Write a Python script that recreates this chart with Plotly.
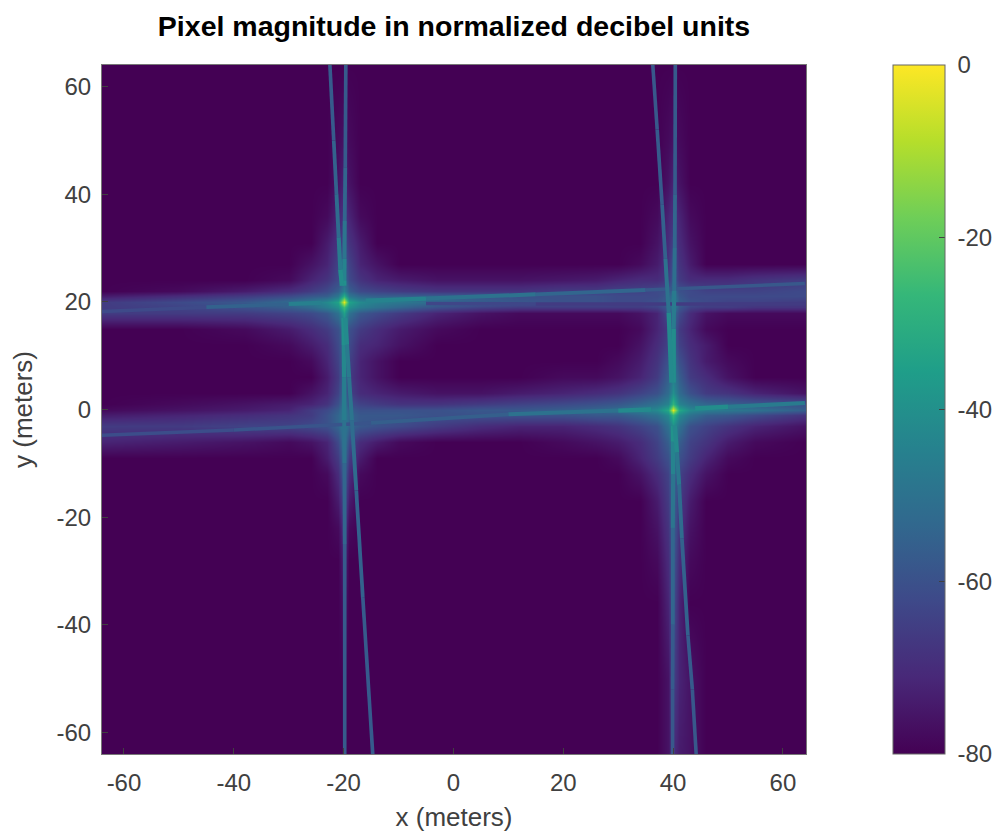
import plotly.graph_objects as go
from plotly.colors import sample_colorscale

TITLE = "Pixel magnitude in normalized decibel units"
X_NODES = [-64,-50,-38,-30,-26,-23,-21,-20,-19,-17,-14,-10,-3,5,12,20,26,30,34,37,39,40,41,43,46,50,55,64]
Y_NODES = [64,50,42,36,31,27,24,22,21,20,19,18,15,12,9,6,3,1,0,-1,-3,-6,-9,-12,-17,-22,-28,-36,-50,-64]
TICKS = [-60,-40,-20,0,20,40,60]
TICK_TEXT = ["-60","-40","-20","0","20","40","60"]
CB_TICKS = [0,-20,-40,-60,-80]
CB_TEXT = ["\u00a00","\u00a0-20","\u00a0-40","\u00a0-60","\u00a0-80"]

Z_ROWS = [
[-80,-80,-80,-80,-80,-80,-80,-80,-80,-80,-80,-80,-80,-80,-80,-80,-80,-80,-80,-80,-80,-80,-80,-80,-80,-80,-80,-80],
[-80,-80,-80,-80,-80,-80,-78,-76,-78,-80,-80,-80,-80,-80,-80,-80,-80,-80,-80,-80,-78,-76,-78,-80,-80,-80,-80,-80],
[-80,-80,-80,-80,-80,-80,-76,-72,-76,-80,-80,-80,-80,-80,-80,-80,-80,-80,-80,-80,-76,-72,-76,-80,-80,-80,-80,-80],
[-80,-80,-80,-80,-80,-78,-72,-68,-72,-78,-80,-80,-80,-80,-80,-80,-80,-80,-80,-78,-72,-68,-72,-78,-80,-80,-80,-80],
[-80,-80,-80,-80,-80,-74,-68,-62,-68,-74,-80,-80,-80,-80,-80,-80,-80,-80,-80,-76,-70,-64,-70,-76,-80,-80,-80,-80],
[-80,-80,-80,-80,-76,-72,-64,-58,-64,-72,-76,-80,-80,-80,-80,-80,-80,-80,-78,-74,-68,-60,-68,-74,-80,-80,-80,-80],
[-80,-80,-80,-78,-72,-68,-62,-52,-62,-68,-72,-74,-76,-76,-76,-75,-74,-72,-70,-70,-66,-58,-66,-70,-70,-70,-68,-66],
[-80,-78,-74,-70,-66,-62,-56,-45,-56,-62,-64,-66,-68,-68,-68,-66,-66,-64,-64,-62,-60,-52,-60,-62,-64,-64,-64,-62],
[-74,-70,-66,-62,-58,-56,-48,-30,-48,-54,-56,-56,-56,-58,-60,-60,-60,-62,-62,-62,-58,-48,-58,-62,-62,-62,-62,-62],
[-66,-62,-58,-52,-48,-42,-34,-3,-34,-42,-46,-48,-52,-56,-58,-60,-60,-62,-62,-60,-56,-45,-56,-60,-62,-64,-64,-66],
[-66,-64,-60,-56,-52,-46,-40,-25,-40,-46,-50,-54,-60,-64,-66,-66,-66,-66,-66,-64,-58,-46,-58,-64,-66,-66,-68,-68],
[-66,-66,-66,-64,-62,-58,-50,-35,-50,-58,-62,-66,-72,-76,-78,-78,-78,-78,-76,-72,-62,-52,-62,-70,-76,-78,-78,-78],
[-80,-80,-78,-74,-70,-66,-60,-50,-60,-66,-70,-74,-78,-80,-80,-80,-80,-80,-78,-72,-66,-56,-66,-72,-78,-80,-80,-80],
[-80,-80,-80,-78,-74,-70,-62,-52,-62,-70,-72,-76,-80,-80,-80,-80,-80,-80,-76,-70,-64,-54,-64,-70,-74,-80,-80,-80],
[-80,-80,-80,-80,-78,-72,-64,-52,-64,-72,-76,-80,-80,-80,-80,-80,-80,-78,-74,-68,-60,-50,-60,-68,-74,-78,-80,-80],
[-80,-80,-80,-80,-80,-74,-66,-52,-66,-72,-76,-80,-80,-80,-80,-78,-78,-76,-72,-66,-56,-46,-56,-66,-70,-76,-80,-80],
[-80,-80,-80,-80,-76,-72,-64,-50,-64,-70,-72,-74,-76,-76,-74,-72,-70,-68,-64,-60,-52,-40,-52,-60,-66,-68,-72,-76],
[-80,-78,-76,-74,-72,-68,-60,-48,-60,-64,-66,-68,-68,-66,-64,-62,-60,-58,-54,-50,-44,-28,-44,-50,-54,-56,-58,-60],
[-78,-76,-74,-72,-66,-62,-56,-46,-56,-60,-60,-60,-60,-58,-58,-56,-54,-52,-46,-42,-32,-3,-32,-42,-46,-48,-50,-56],
[-74,-72,-70,-68,-66,-60,-54,-46,-54,-58,-58,-58,-60,-60,-60,-60,-58,-58,-54,-50,-42,-28,-42,-50,-56,-58,-62,-68],
[-66,-66,-64,-64,-62,-60,-54,-46,-54,-58,-60,-62,-66,-70,-72,-72,-70,-68,-64,-60,-50,-40,-50,-60,-64,-68,-72,-76],
[-72,-74,-76,-78,-76,-72,-62,-48,-62,-70,-74,-78,-80,-80,-80,-78,-76,-74,-70,-64,-56,-46,-56,-64,-68,-74,-78,-80],
[-80,-80,-80,-80,-80,-74,-66,-52,-66,-74,-80,-80,-80,-80,-80,-80,-80,-78,-72,-66,-60,-50,-60,-66,-72,-78,-80,-80],
[-80,-80,-80,-80,-80,-78,-70,-56,-70,-78,-80,-80,-80,-80,-80,-80,-80,-80,-76,-70,-64,-52,-64,-70,-76,-80,-80,-80],
[-80,-80,-80,-80,-80,-80,-74,-62,-74,-80,-80,-80,-80,-80,-80,-80,-80,-80,-80,-74,-66,-54,-66,-74,-80,-80,-80,-80],
[-80,-80,-80,-80,-80,-80,-78,-68,-78,-80,-80,-80,-80,-80,-80,-80,-80,-80,-80,-76,-68,-56,-68,-76,-80,-80,-80,-80],
[-80,-80,-80,-80,-80,-80,-80,-72,-80,-80,-80,-80,-80,-80,-80,-80,-80,-80,-80,-78,-70,-58,-70,-78,-80,-80,-80,-80],
[-80,-80,-80,-80,-80,-80,-80,-76,-80,-80,-80,-80,-80,-80,-80,-80,-80,-80,-80,-80,-72,-60,-72,-80,-80,-80,-80,-80],
[-80,-80,-80,-80,-80,-80,-80,-80,-80,-80,-80,-80,-80,-80,-80,-80,-80,-80,-80,-80,-76,-64,-72,-76,-80,-80,-80,-80],
[-80,-80,-80,-80,-80,-80,-80,-80,-80,-80,-80,-80,-80,-80,-80,-80,-80,-80,-80,-80,-76,-70,-74,-76,-80,-80,-80,-80],
]

# Streaks: x, y, level in dB at each node (None leaves a gap around a peak)
V1_X = [-19.6,-19.7,-19.8,-19.85,-19.9,-19.9,-20,-20,-19.95,-19.9,-19.9,-19.85,-19.8,-19.8]
V1_Y = [64,45,35,28,24,23,20,17,12,6,-2,-10,-25,-64]
V1_V = [-58,-56,-52,-46,-42,-38,None,-38,-42,-44,-48,-52,-56,-58]
S1_X = [-22.5,-21.8,-21.3,-20.9,-20.6,-20.3,-20,-19.7,-19.4,-19,-18.5,-17.7,-16.5,-14.7]
S1_Y = [64,50,40,32,26,23,20,17,12,6,-2,-15,-35,-64]
S1_V = [-58,-56,-54,-50,-44,-38,None,-38,-46,-48,-50,-54,-56,-58]
V2_X = [40.4,40.35,40.3,40.2,40.1,40.1,40,40,40,40,39.95,39.95,39.9,39.9]
V2_Y = [64,40,30,22,15,5,0,-3,-6,-12,-22,-40,-52,-64]
V2_V = [-58,-56,-52,-50,-44,-38,None,-36,-42,-46,-52,-56,-58,-58]
S2_X = [36.3,37.1,38,38.6,39.2,39.7,40,40.3,40.7,41.1,41.6,42.7,43.5,44.2]
S2_Y = [64,52,38,28,18,5,0,-3,-8,-14,-24,-42,-52,-64]
S2_V = [-58,-58,-56,-54,-46,-38,None,-38,-46,-50,-54,-56,-58,-58]
H1A_X = [-64,-45,-30,-24,-20,-16,-5,15,35,64]
H1A_Y = [18.2,19,19.6,19.8,20,20.2,20.6,21.4,22.2,23.4]
H1A_V = [-64,-60,-50,-40,None,-40,-48,-52,-56,-60]
H1B_X = [-5,15,35,64]
H1B_Y = [19.7,19.6,19.6,19.6]
H1B_V = [-60,-66,-66,-66]
H2A_X = [-64,-40,-15,10,30,36,40,44,50,64]
H2A_Y = [-4.8,-3.8,-2.5,-0.9,-0.2,0,0,0.2,0.5,1.2]
H2A_V = [-62,-60,-58,-54,-46,-38,None,-38,-44,-50]
STREAKS = [(H1A_X,H1A_Y,H1A_V),(H1B_X,H1B_Y,H1B_V),(H2A_X,H2A_Y,H2A_V),
           (V1_X,V1_Y,V1_V),(S1_X,S1_Y,S1_V),(V2_X,V2_Y,V2_V),(S2_X,S2_Y,S2_V)]

ZMIN, ZMAX = -80, 0
def col(v):
    return sample_colorscale("Viridis", [(v - ZMIN) / (ZMAX - ZMIN)])[0]

INK = "#404040"
FONT = "Liberation Sans"
# page body has an 8 px margin: figure coordinates = page coordinates - 8
W, H = 985, 824
L, R, T, B = 102 - 8, 806 - 8, 65 - 8, 754 - 8

fig = go.Figure()
fig.add_trace(go.Heatmap(
    x=X_NODES, y=Y_NODES, z=Z_ROWS, zmin=ZMIN, zmax=ZMAX, zsmooth="best",
    colorscale="Viridis", hoverinfo="skip",
    colorbar=dict(
        thickness=52, thicknessmode="pixels", len=1, lenmode="fraction",
        x=(893 - 102) / (806 - 102), xanchor="left", xpad=0, y=0.5, yanchor="middle", ypad=0,
        tickmode="array", tickvals=CB_TICKS, ticktext=CB_TEXT, ticks="inside", ticklen=6, tickcolor=INK,
        tickfont=dict(family=FONT, size=24, color=INK),
        outlinecolor="#666666", outlinewidth=1),
))
for xs, ys, vs in STREAKS:
    for i in range(len(xs) - 1):
        a, b = vs[i], vs[i + 1]
        if a is None or b is None:
            continue
        v = (a + b) / 2
        fig.add_trace(go.Scatter(
            x=[xs[i], xs[i + 1]], y=[ys[i], ys[i + 1]], mode="lines",
            line=dict(color=col(v), width=3.5 + max(0, v + 60) * 0.05),
            hoverinfo="skip", showlegend=False))

ax = dict(tickmode="array", tickvals=TICKS, ticktext=TICK_TEXT, ticks="inside", ticklen=6, tickcolor=INK,
          tickfont=dict(family=FONT, size=24, color=INK), showgrid=False, zeroline=False,
          showline=True, linecolor="#777777", linewidth=1, mirror=True)
fig.update_layout(
    width=W, height=H, margin=dict(l=L, r=W - R, t=T, b=H - B, autoexpand=False),
    paper_bgcolor="white", plot_bgcolor="#440154", showlegend=False,
    title=dict(text="<b>" + TITLE + "</b>", x=(454 - 8) / W, xanchor="center",
               y=1 - (26 - 8) / H, yanchor="middle",
               font=dict(family=FONT, size=28.5, color="#000000")),
    xaxis=dict(ax, range=[-64, 64.2], ticklabelstandoff=7, title=dict(text="x (meters)", standoff=17,
               font=dict(family=FONT, size=26, color=INK))),
    yaxis=dict(ax, range=[-64, 64], ticklabelstandoff=5, title=dict(text="y (meters)", standoff=18,
               font=dict(family=FONT, size=26, color=INK))),
)
fig.write_html("out.html")
